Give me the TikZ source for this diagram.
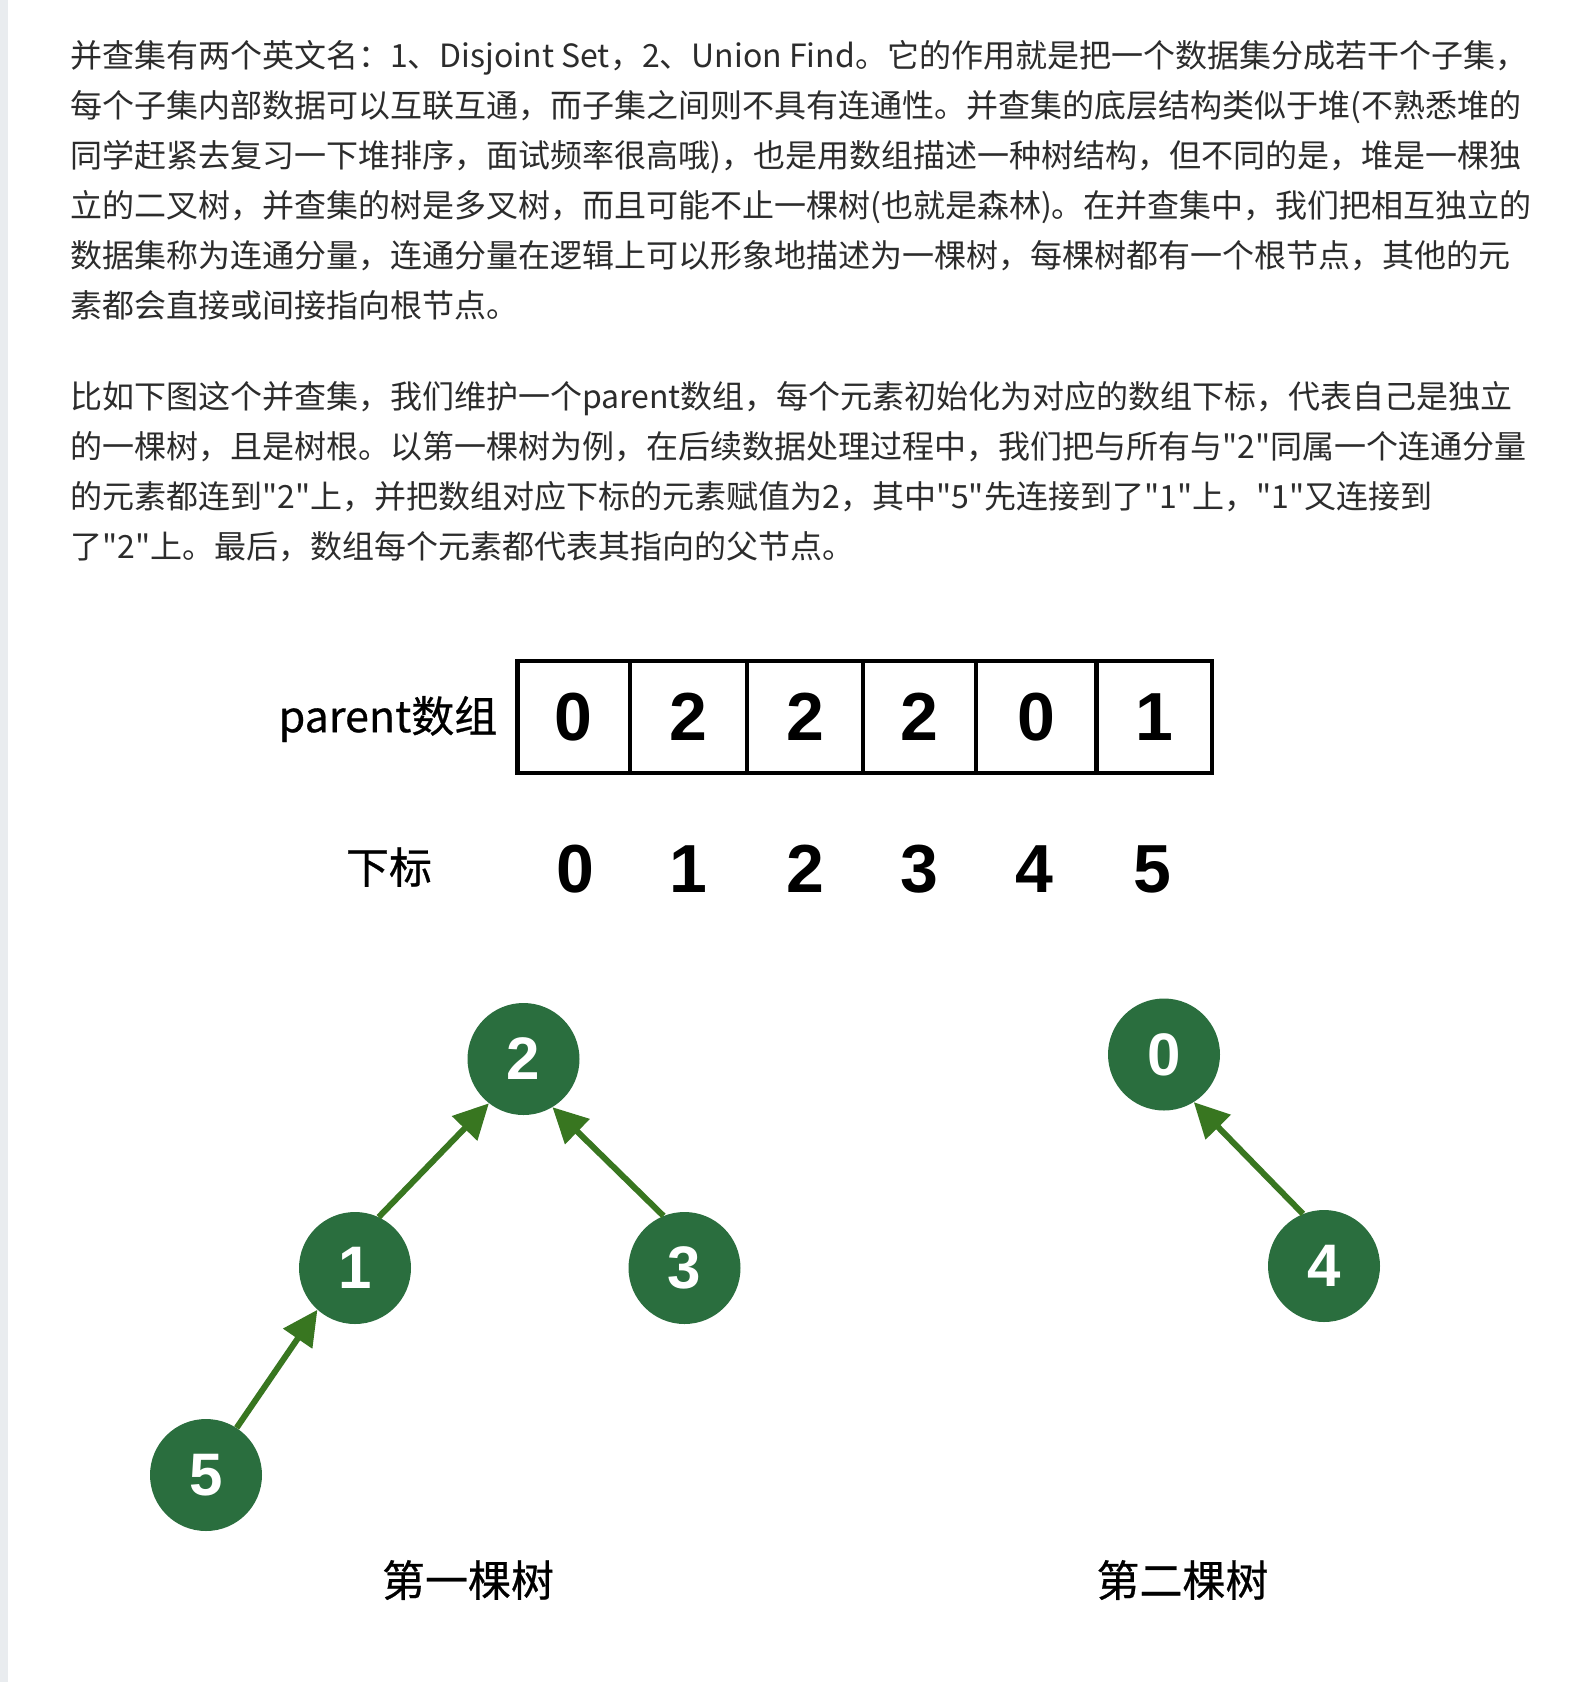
\documentclass[tikz,border=0pt]{standalone}
\usepackage{fontspec}
\setmainfont{Noto Sans CJK SC}
\newfontfamily\cjk{Noto Sans CJK SC}
\newfontfamily\cjkb[FakeBold=0.6]{Noto Sans CJK SC}
\newfontfamily\digf{Liberation Sans}
\usetikzlibrary{arrows.meta}
\definecolor{txt}{RGB}{44,44,44}
\definecolor{strip}{RGB}{233,236,239}
\definecolor{nodegreen}{RGB}{42,110,62}
\definecolor{arrgreen}{RGB}{56,118,32}
\tikzset{
  bodyline/.style={anchor=base west, inner sep=0pt, text=txt, font=\cjk\fontsize{32pt}{40pt}\selectfont},
  lbl/.style={inner sep=0pt, text=black, font=\cjkb\fontsize{43pt}{50pt}\selectfont},
  cell/.style={draw=black, line width=4.5pt, minimum height=112pt, inner sep=0pt, font=\digf\bfseries\fontsize{68pt}{68pt}\selectfont},
  idx/.style={inner sep=0pt, font=\digf\bfseries\fontsize{68pt}{68pt}\selectfont},
  tnode/.style={circle, fill=nodegreen, minimum size=112pt, inner sep=0pt, text=white, font=\digf\bfseries\fontsize{60pt}{60pt}\selectfont},
  arr/.style={draw=arrgreen, line width=6pt, -{Triangle[length=35pt,width=34pt]}, arrgreen}
}
\begin{document}
\begin{tikzpicture}[x=1pt,y=-1pt]
\useasboundingbox (0,0) rectangle (1592,1682);
\fill[white] (0,0) rectangle (1592,1682);
\fill[strip] (0,0) rectangle (8,1682);
% paragraph 1
\node[bodyline] (p1) at (70,67) {并查集有两个英文名：1、Disjoint Set，2、Union Find。它的作用就是把一个数据集分成若干个子集，};
\node[bodyline] (p2) at (70,117) {每个子集内部数据可以互联互通，而子集之间则不具有连通性。并查集的底层结构类似于堆(不熟悉堆的};
\node[bodyline] (p3) at (70,167) {同学赶紧去复习一下堆排序，面试频率很高哦)，也是用数组描述一种树结构，但不同的是，堆是一棵独};
\node[bodyline] (p4) at (70,217) {立的二叉树，并查集的树是多叉树，而且可能不止一棵树(也就是森林)。在并查集中，我们把相互独立的};
\node[bodyline] (p5) at (70,267) {数据集称为连通分量，连通分量在逻辑上可以形象地描述为一棵树，每棵树都有一个根节点，其他的元};
\node[bodyline] (p6) at (70,317) {素都会直接或间接指向根节点。};
% paragraph 2
\node[bodyline] (q1) at (70,408) {比如下图这个并查集，我们维护一个parent数组，每个元素初始化为对应的数组下标，代表自己是独立};
\node[bodyline] (q2) at (70,458) {的一棵树，且是树根。以第一棵树为例，在后续数据处理过程中，我们把与所有与"2"同属一个连通分量};
\node[bodyline] (q3) at (70,508) {的元素都连到"2"上，并把数组对应下标的元素赋值为2，其中"5"先连接到了"1"上，"1"又连接到};
\node[bodyline] (q4) at (70,558) {了"2"上。最后，数组每个元素都代表其指向的父节点。};
% array
\node[lbl] (plabel) at (388,719) {parent数组};
\node[cell, minimum width=112.5pt] (c0) at (573.75,717) {0};
\node[cell, minimum width=117pt] (c1) at (688.5,717) {2};
\node[cell, minimum width=116pt] (c2) at (805,717) {2};
\node[cell, minimum width=113pt] (c3) at (919.5,717) {2};
\node[cell, minimum width=120.5pt] (c4) at (1036.25,717) {0};
\node[cell, minimum width=115.5pt] (c5) at (1154.25,717) {1};
\node[lbl] (ilabel) at (389,867) {下标};
\node[idx] (i0) at (575,869) {0};
\node[idx] (i1) at (688.5,869) {1};
\node[idx] (i2) at (805,869) {2};
\node[idx] (i3) at (919.5,869) {3};
\node[idx] (i4) at (1034,869) {4};
\node[idx] (i5) at (1152,869) {5};
% trees
\node[tnode] (n2) at (523.5,1059) {2};
\node[tnode] (n1) at (355,1268) {1};
\node[tnode] (n3) at (684.5,1268) {3};
\node[tnode] (n5) at (206,1475) {5};
\node[tnode] (n0) at (1164,1054.5) {0};
\node[tnode] (n4) at (1324,1266) {4};
\draw[arr] (n1.65) -- (n2.232);
\draw[arr] (n3.112) -- (n2.301);
\draw[arr] (n5.57) -- (n1.228);
\draw[arr] (n4.112) -- (n0.302);
\node[lbl] (t1) at (468,1580) {第一棵树};
\node[lbl] (t2) at (1182.5,1580) {第二棵树};
\end{tikzpicture}
\end{document}
